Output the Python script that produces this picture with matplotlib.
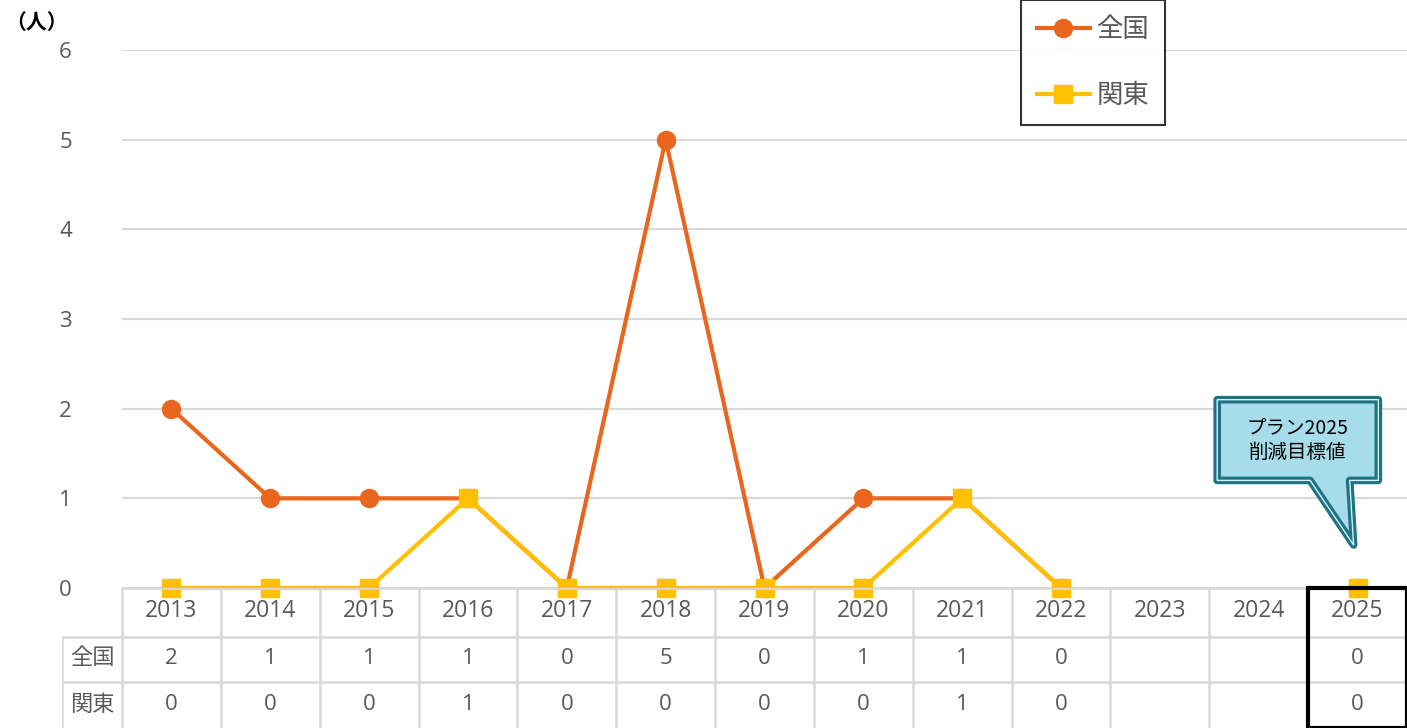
import numpy as np
import matplotlib
matplotlib.use('Agg')
import matplotlib.pyplot as plt
from matplotlib.patches import Polygon, Rectangle

plt.rcParams['font.family'] = ['Noto Sans CJK JP', 'DejaVu Sans']

years = ['2013', '2014', '2015', '2016', '2017', '2018', '2019', '2020',
         '2021', '2022', '2023', '2024', '2025']
zenkoku = [2, 1, 1, 1, 0, 5, 0, 1, 1, 0, np.nan, np.nan, 0]
kanto = [0, 0, 0, 1, 0, 0, 0, 0, 1, 0, np.nan, np.nan, 0]
series_names = ['全国', '関東']
y_ticks = [0, 1, 2, 3, 4, 5, 6]

W, H = 1407, 728
fig = plt.figure(figsize=(W / 100, H / 100), dpi=100)

orange = '#E8661E'
yellow = '#FFC000'
grid_c = '#d9d9d9'
txt_c = '#595959'
num_font = ['Open Sans', 'DejaVu Sans']

# main plot
ax = fig.add_axes([122 / W, 140 / H, 1285 / W, 538 / H])
x = np.arange(len(years))
ax.plot(x, zenkoku, color=orange, lw=3, marker='o', ms=13, label=series_names[0],
        zorder=3, clip_on=False)
ax.plot(x, kanto, color=yellow, lw=3, marker='s', ms=13, label=series_names[1],
        zorder=4, clip_on=False)
ax.set_xlim(-0.5, len(years) - 0.5)
ax.set_ylim(0, 6)
ax.set_yticks(y_ticks)
ax.set_xticks([])
ax.tick_params(axis='y', length=0, pad=36, labelsize=16, labelcolor=txt_c)
ax.grid(axis='y', color=grid_c, lw=1.5)
for s in ax.spines.values():
    s.set_visible(False)
for lab in ax.get_yticklabels():
    lab.set_fontfamily(num_font)

leg = ax.legend(loc='upper left', bbox_to_anchor=((1021 - 122) / 1285, 1 + 50 / 538),
                borderaxespad=0, frameon=True, fancybox=False, fontsize=19,
                handlelength=2.0, labelspacing=1.5, borderpad=0.6, handletextpad=0.25,
                labelcolor=txt_c)
leg.get_frame().set_edgecolor('black')
leg.get_frame().set_linewidth(1.5)

fig.text(5 / W, 1 - 22 / H, '（人）', fontsize=15, fontweight='bold', va='center', ha='left')

# callout pointing at the 2025 target
cx = len(years) - 1
pts = [(10.58, 2.10), (12.21, 2.10), (12.21, 1.20), (11.92, 1.20),
       (11.96, 0.48), (11.52, 1.20), (10.58, 1.20)]
ax.add_patch(Polygon(pts, closed=True, facecolor='#a7dceb', edgecolor='#1f7385',
                     lw=5.5, joinstyle='round', zorder=5))
ax.add_patch(Polygon(pts, closed=True, facecolor='none', edgecolor='#d6f1f7',
                     lw=1.0, joinstyle='round', zorder=6))
ax.text((10.58 + 12.21) / 2, 1.65, 'プラン2025\n削減目標値', ha='center', va='center',
        fontsize=14, linespacing=1.25, zorder=7)

# data table
tab = fig.add_axes([62 / W, 0, 1345 / W, 140 / H])
lab_w = 60 / 98.85
tab.set_xlim(-0.5 - lab_w, len(years) - 0.5)
tab.set_ylim(0, 140)
tab.axis('off')
lc = dict(color=grid_c, lw=1.8)
tab.plot([-0.5, len(years) - 0.5], [140, 140], **lc)
tab.plot([-0.5 - lab_w, len(years) - 0.5], [91, 91], **lc)
tab.plot([-0.5 - lab_w, len(years) - 0.5], [46, 46], **lc)
tab.plot([-0.5 - lab_w, -0.5 - lab_w], [0, 91], **lc)
for i in range(len(years) + 1):
    tab.plot([i - 0.5, i - 0.5], [0, 140], **lc)


def fmt(v):
    return '' if np.isnan(v) else str(int(v))


for i, yr in enumerate(years):
    tab.text(i, 117, yr, ha='center', va='center', fontsize=16.5, color=txt_c,
             family=num_font)
    tab.text(i, 70, fmt(zenkoku[i]), ha='center', va='center', fontsize=16, color=txt_c,
             family=num_font)
    tab.text(i, 24, fmt(kanto[i]), ha='center', va='center', fontsize=16, color=txt_c,
             family=num_font)
tab.text(-0.5 - lab_w / 2, 70, series_names[0], ha='center', va='center', fontsize=16, color=txt_c)
tab.text(-0.5 - lab_w / 2, 24, series_names[1], ha='center', va='center', fontsize=16, color=txt_c)

tab.add_patch(Rectangle((cx - 0.5, 0), 1.0, 140, fill=False, edgecolor='black', lw=3,
                        clip_on=False, zorder=5))

fig.savefig('out.png', dpi=100)
